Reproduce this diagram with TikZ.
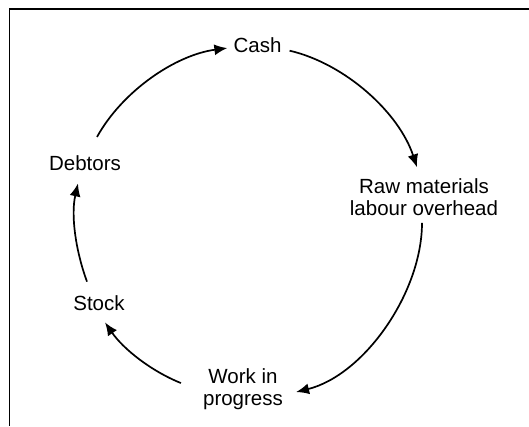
\documentclass[tikz,border=0pt]{standalone}
\usepackage{fontspec}
\setmainfont{Liberation Sans}
\usetikzlibrary{arrows.meta}
\begin{document}
\begin{tikzpicture}[x=1pt,y=1pt,
  lbl/.style={font=\fontsize{20.5}{22}\selectfont, inner sep=0pt, align=center},
  arr/.style={line width=1.7pt, -{Latex[length=13pt,width=11pt]}, looseness=0.85},
  frame/.style={line width=1.5pt}]
\useasboundingbox (0,-426) rectangle (529,0);
\draw[frame] (529,-9) -- (9.5,-9) -- (9.5,-426);
\node[lbl, anchor=base] (cash) at (257.5,-52) {Cash};
\node[lbl, anchor=north] (raw) at (424,-178.3) {Raw materials\\labour overhead};
\node[lbl, anchor=north] (work) at (243,-368.3) {Work in\\progress};
\node[lbl, anchor=base] (stock) at (99,-310) {Stock};
\node[lbl, anchor=base] (debtors) at (85,-170) {Debtors};
\draw[arr] ([shift={(12,18)}]debtors.north) to[out=61,in=187.5] ([shift={(-6,-3.4)}]cash.west);
\draw[arr] ([shift={(8,-6)}]cash.east) to[out=-13.2,in=108.2] ([shift={(-7,11)}]raw.north);
\draw[arr] ([shift={(-2,-7)}]raw.south) to[out=-90,in=14] ([shift={(13,-3)}]work.east);
\draw[arr] ([shift={(-22,6)}]work.west) to[out=158,in=-55.4] ([shift={(6,-12)}]stock.south);
\draw[arr] ([shift={(-12,13.3)}]stock.north) to[out=110.2,in=257.2] ([shift={(-7,-13)}]debtors.south);
\end{tikzpicture}
\end{document}
